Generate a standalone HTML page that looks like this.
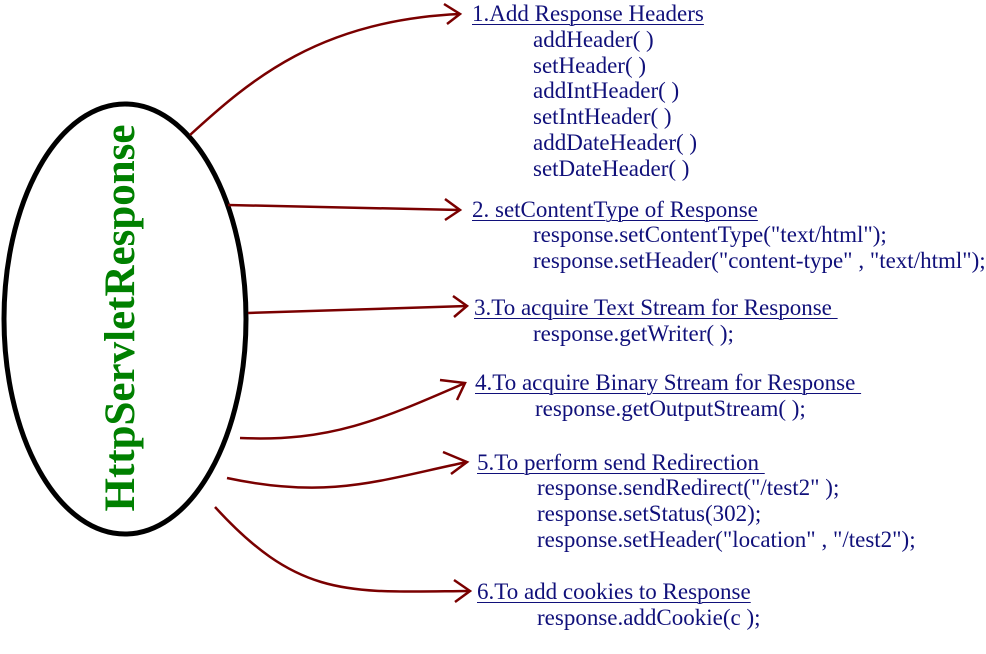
<!DOCTYPE html>
<html><head><style>
body{margin:0;width:986px;height:654px;background:#fff;position:relative;overflow:hidden;font-family:"Liberation Serif",serif;}
.t{position:absolute;font-size:23px;color:#10107a;white-space:pre;line-height:22px;}
.h{text-decoration:underline;text-decoration-thickness:1px;text-underline-offset:3px;}
</style></head><body>
<svg width="986" height="654" style="position:absolute;left:0;top:0">
<ellipse cx="125" cy="319" rx="121" ry="215" fill="none" stroke="#000" stroke-width="5"/>
<text x="0" y="0" transform="translate(134,318) rotate(-90)" text-anchor="middle" font-family="Liberation Serif" font-weight="bold" font-size="43" fill="#008000">HttpServletResponse</text>
<g fill="none" stroke="#7a0000" stroke-width="2.5">
<path d="M190 135 C250 80 320 20 460 14"/><path d="M444 4 L460 14 L447 24"/>
<path d="M228 205 L460 210"/><path d="M445 199 L460 210 L445 220"/>
<path d="M248 313 L467 306"/><path d="M453 296 L467 306 L454 317"/>
<path d="M240 438 C330 442 380 420 465 383"/><path d="M440 380 L465 383 L457 400"/>
<path d="M227 478 C330 500 380 480 467 462"/><path d="M443 452 L467 462 L451 474"/>
<path d="M215 507 C300 600 350 592 470 591"/><path d="M454 580 L470 591 L455 602"/>
</g>
</svg>
<div class="t h" style="left:472px;top:3px">1.Add Response Headers</div>
<div class="t" style="left:533px;top:29px">addHeader( )</div>
<div class="t" style="left:533px;top:55px">setHeader( )</div>
<div class="t" style="left:533px;top:80px">addIntHeader( )</div>
<div class="t" style="left:533px;top:106px">setIntHeader( )</div>
<div class="t" style="left:533px;top:132px">addDateHeader( )</div>
<div class="t" style="left:533px;top:158px">setDateHeader( )</div>
<div class="t h" style="left:472px;top:199px">2. setContentType of Response</div>
<div class="t" style="left:533px;top:224px">response.setContentType("text/html");</div>
<div class="t" style="left:533px;top:250px">response.setHeader("content-type" , "text/html");</div>
<div class="t h" style="left:474px;top:297px">3.To acquire Text Stream for Response </div>
<div class="t" style="left:533px;top:323px">response.getWriter( );</div>
<div class="t h" style="left:475px;top:372px">4.To acquire Binary Stream for Response </div>
<div class="t" style="left:535px;top:398px">response.getOutputStream( );</div>
<div class="t h" style="left:477px;top:452px">5.To perform send Redirection </div>
<div class="t" style="left:537px;top:477px">response.sendRedirect("/test2" );</div>
<div class="t" style="left:537px;top:503px">response.setStatus(302);</div>
<div class="t" style="left:537px;top:529px">response.setHeader("location" , "/test2");</div>
<div class="t h" style="left:477px;top:581px">6.To add cookies to Response</div>
<div class="t" style="left:537px;top:607px">response.addCookie(c );</div>
</body></html>
